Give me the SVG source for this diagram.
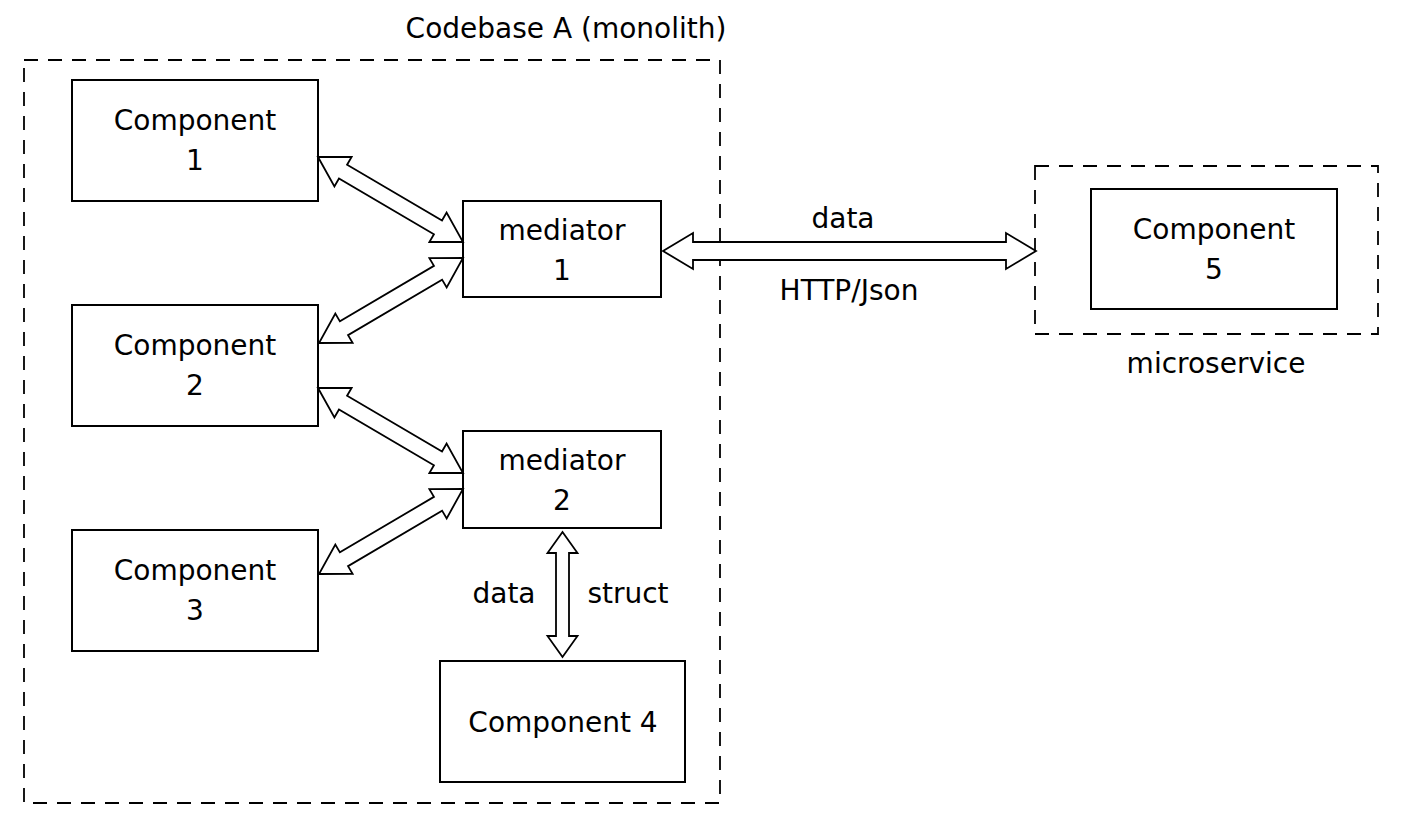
<svg xmlns="http://www.w3.org/2000/svg" width="1403" height="819" viewBox="0 0 1403 819">
<style>
.bg{fill:#fff}
.box{fill:#fff;stroke:#000;stroke-width:2}
.dash{fill:none;stroke:#000;stroke-width:1.8;stroke-dasharray:14 10}
.arr{fill:#fff;stroke:#000;stroke-width:1.8;stroke-linejoin:miter}
text{font-family:"DejaVu Sans","Liberation Sans",sans-serif;font-size:28px;fill:#000;text-anchor:middle}
</style>
<rect class="bg" x="0" y="0" width="1403" height="819"/>
<g id="monolith">
<rect class="dash" x="24" y="60" width="696" height="743"/>
<text x="566" y="38">Codebase A (monolith)</text>
</g>
<g id="microservice">
<rect class="dash" x="1035" y="166" width="343" height="168"/>
<text x="1216" y="373">microservice</text>
</g>
<g id="component1">
<rect class="box" x="72" y="80" width="246" height="121"/>
<text x="195" y="130">Component</text>
<text x="195" y="170">1</text>
</g>
<g id="component2">
<rect class="box" x="72" y="305" width="246" height="121"/>
<text x="195" y="355">Component</text>
<text x="195" y="395">2</text>
</g>
<g id="component3">
<rect class="box" x="72" y="530" width="246" height="121"/>
<text x="195" y="580">Component</text>
<text x="195" y="620">3</text>
</g>
<g id="mediator1">
<rect class="box" x="463" y="201" width="198" height="96"/>
<text x="562" y="240">mediator</text>
<text x="562" y="280">1</text>
</g>
<g id="mediator2">
<rect class="box" x="463" y="431" width="198" height="97"/>
<text x="562" y="470">mediator</text>
<text x="562" y="510">2</text>
</g>
<g id="component4">
<rect class="box" x="440" y="661" width="245" height="121"/>
<text x="563" y="732">Component 4</text>
</g>
<g id="component5">
<rect class="box" x="1091" y="189" width="246" height="120"/>
<text x="1214" y="239">Component</text>
<text x="1214" y="279">5</text>
</g>
<g id="connectors">
<polygon class="arr" points="318,157 334.42,186.34 338.97,178.57 433.93,234.23 429.38,242 463,242 446.58,212.66 442.03,220.43 347.07,164.77 351.62,157"/>
<polygon class="arr" points="319,343 352.61,342.9 348.04,335.15 442.1,279.63 446.67,287.38 463,258 429.39,258.1 433.96,265.85 339.9,321.37 335.33,313.62"/>
<polygon class="arr" points="318,388 334.42,417.34 338.97,409.57 433.93,465.23 429.38,473 463,473 446.58,443.66 442.03,451.43 347.07,395.77 351.62,388"/>
<polygon class="arr" points="319,574 352.61,573.9 348.04,566.15 442.1,510.63 446.67,518.38 463,489 429.39,489.1 433.96,496.85 339.9,552.37 335.33,544.62"/>
<polygon class="arr" points="663,251 693,233 693,242 1006,242 1006,233 1036,251 1006,269 1006,260 693,260 693,269"/>
<polygon class="arr" points="562.5,532 577.5,553 569,553 569,636 577.5,636 562.5,657 547.5,636 556,636 556,553 547.5,553"/>
<text x="843" y="228">data</text>
<text x="849" y="300">HTTP/Json</text>
<text x="504" y="603">data</text>
<text x="628" y="603">struct</text>
</g>
</svg>
